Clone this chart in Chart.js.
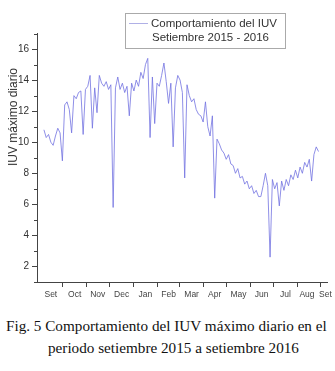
<!DOCTYPE html>
<html><head><meta charset="utf-8">
<script src="https://cdn.jsdelivr.net/npm/chart.js@4.4.0/dist/chart.umd.min.js"></script>
<style>
html,body{margin:0;padding:0;background:#fff;}
#wrap{position:relative;width:335px;height:371px;overflow:hidden;background:#fff;}
#c{position:absolute;left:0;top:0;}
.leg{position:absolute;left:125px;top:13px;width:161px;height:36px;border:1px solid #aaa;box-sizing:border-box;font-family:"Liberation Sans",Arial,sans-serif;font-size:11.5px;color:#333;}
.leg .ln{position:absolute;left:3px;top:9px;width:19px;height:0;border-top:1px solid #b0b0e6;}
.leg .t1{position:absolute;left:25px;top:2px;white-space:nowrap;line-height:14px;}
.leg .t2{position:absolute;left:26px;top:16px;white-space:nowrap;line-height:14px;}
.ytitle{position:absolute;left:13px;top:117px;transform:translate(-50%,-50%) rotate(-90deg);white-space:nowrap;font-family:"Liberation Sans",Arial,sans-serif;font-size:12px;color:#333;}
.cap{position:absolute;white-space:nowrap;font-family:"Liberation Serif","Times New Roman",serif;font-size:15.2px;color:#111;line-height:18px;}
</style>
</head><body>
<div id="wrap">
<canvas id="c" width="335" height="305"></canvas>
<div class="leg"><div class="ln"></div><div class="t1">Comportamiento del IUV</div><div class="t2">Setiembre 2015 - 2016</div></div>
<div class="ytitle">IUV máximo diario</div>
<div class="cap" style="left:6px;top:317px;">Fig. 5 Comportamiento del IUV máximo diario en el</div>
<div class="cap" style="left:48px;top:339px;">periodo setiembre 2015 a setiembre 2016</div>
</div>
<script>
// day index since 1 Sep 2015
const days = [6,9,12,15,18,21,24,27,30,33,36,39,42,45,48,51,54,57,60,63,66,69,72,75,78,81,84,87,90,93,96,99,102,105,108,111,114,117,120,123,126,129,132,135,138,141,144,147,150,153,156,159,162,165,168,171,174,177,180,183,186,189,192,195,198,201,204,207,210,213,216,219,222,225,228,231,234,237,240,243,246,249,252,255,258,261,264,267,270,273,276,279,282,285,288,291,294,297,300,303,306,309,312,315,318,321,324,327,330,333,336,339,342,345,348,351,354,357,360,363];
const iuv = [10.8,10.3,10.5,10.0,9.8,10.4,10.9,10.6,8.8,12.4,
12.6,12.1,10.6,13.0,12.8,13.2,13.3,10.5,13.4,13.6,
14.3,10.9,13.5,11.9,14.3,13.8,13.6,13.9,13.4,13.7,
5.8,13.5,14.2,13.4,13.8,13.2,13.6,11.7,13.8,13.3,
14.0,13.6,14.5,14.1,15.0,15.4,10.3,14.2,11.2,13.8,
13.6,14.3,15.1,13.9,12.5,13.8,9.7,13.5,14.3,14.0,
13.2,7.7,13.7,13.0,12.6,12.8,12.1,11.8,11.7,11.3,
12.6,11.0,10.4,11.7,6.4,10.2,9.9,9.5,9.3,8.9,
9.2,8.6,8.5,8.0,8.3,7.7,7.8,7.3,7.5,7.0,
7.2,6.7,6.9,6.5,6.5,7.2,8.0,7.2,2.6,7.6,
7.0,7.4,5.9,7.5,6.9,7.6,7.2,7.9,7.6,8.2,
7.7,8.4,8.0,8.7,8.4,8.9,7.5,9.2,9.7,9.4];
const monthTickDays = [30,61,91,122,153,182,213,243,274,304,335,366];
const labelDays = [15,46,76,107,138,168,198,228,259,289,320,348,372];
const monthLabels = ['Set','Oct','Nov','Dec','Jan','Feb','Mar','Apr','May','Jun','Jul','Aug','Set'];
const yMajor = [2,4,6,8,10,12,14,16];
const yMinor = [1,3,5,7,9,11,13,15,17];

const AX = '#444';
const minorTicks = {
  id:'minorTicks',
  afterDraw(chart){
    const c = chart.ctx, y = chart.scales.y, left = chart.chartArea.left;
    c.save(); c.strokeStyle = AX; c.lineWidth = 1;
    yMinor.forEach(v=>{
      const p = Math.round(y.getPixelForValue(v))+0.5;
      c.beginPath(); c.moveTo(left-3,p); c.lineTo(left,p); c.stroke();
    });
    c.restore();
  }
};

new Chart(document.getElementById('c'), {
  type:'line',
  data:{datasets:[{
    data: days.map((d,i)=>({x:d,y:iuv[i]})),
    borderColor:'rgba(115,115,225,0.8)', borderWidth:1, pointRadius:0, tension:0, fill:false
  }]},
  options:{
    responsive:false, animation:false, devicePixelRatio:1,
    layout:{padding:{left:0,right:8,top:33.5,bottom:0}},
    plugins:{legend:{display:false},tooltip:{enabled:false}},
    scales:{
      x:{
        type:'linear', min:-3, max:374,
        afterBuildTicks(s){
          const all = monthTickDays.concat(labelDays).sort((a,b)=>a-b);
          s.ticks = all.map(v=>({value:v}));
        },
        afterFit(s){ s.height = 23; },
        ticks:{
          autoSkip:false, maxRotation:0, padding:3,
          font:{family:'"Liberation Sans", Arial, sans-serif', size:8.5}, color:'#444',
          callback(v){ const i = labelDays.indexOf(v); return i>=0 ? monthLabels[i] : ''; }
        },
        grid:{drawOnChartArea:false, drawTicks:true, tickLength:5,
          tickColor(ctx){ return ctx.tick && labelDays.includes(ctx.tick.value) ? 'rgba(0,0,0,0)' : AX; }},
        border:{display:true,color:AX,width:1}
      },
      y:{
        type:'linear', min:1, max:17,
        afterBuildTicks(s){ s.ticks = yMajor.map(v=>({value:v})); },
        afterFit(s){ s.width = 37; },
        ticks:{padding:3, font:{family:'"Liberation Sans", Arial, sans-serif', size:10}, color:'#333'},
        grid:{drawOnChartArea:false, drawTicks:true, tickLength:5, tickColor:AX},
        border:{display:true,color:AX,width:1}
      }
    }
  },
  plugins:[minorTicks]
});
</script>
</body></html>
